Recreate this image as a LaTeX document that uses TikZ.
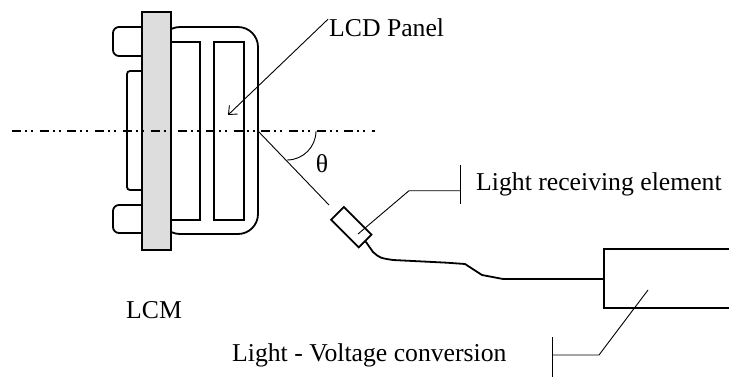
\documentclass[tikz,border=0pt]{standalone}
\usepackage{fontspec}
\setmainfont{Liberation Serif}
\usetikzlibrary{arrows.meta}
\definecolor{plategray}{RGB}{221,221,221}
\begin{document}
\begin{tikzpicture}[x=1pt,y=-1pt,
  thickline/.style={line width=1.8pt},
  thinline/.style={line width=0.9pt},
  lbl/.style={font=\fontsize{25.7}{30}\selectfont, inner sep=0pt, anchor=base west},
  axisline/.style={line width=1.8pt, dash pattern=on 9pt off 4pt on 2pt off 4pt on 2pt off 6.7pt}]
\useasboundingbox (0,0) rectangle (729,376);
% LCM body
\draw[thickline, rounded corners=20pt] (160,27) rectangle (258,234);
\draw[thickline, rounded corners=6pt] (113,27) rectangle (150,56);
\draw[thickline, rounded corners=6pt] (113,205) rectangle (150,233);
\draw[thickline, rounded corners=3pt] (127,71) rectangle (150,190);
\draw[thickline, fill=plategray] (142,12) rectangle (171,250);
\draw[thickline] (171,42) rectangle (200,220);
\draw[thickline] (214,42) rectangle (244,220);
% axis
\coordinate (axL) at (12,131);
\coordinate (axR) at (375,131);
\draw[axisline] (axL) -- (axR);
% viewing direction
\coordinate (origin) at (258,131);
\coordinate (viewend) at (329,205);
\draw[thinline] (origin) -- (viewend);
\draw[thinline] (316,131) .. controls (316,147) and (303,160) .. (287,160);
\node[font=\fontsize{25.7}{30}\selectfont, inner sep=0pt] (theta) at (322,164) {θ};
% sensor
\node[draw, thickline, minimum width=39pt, minimum height=18pt, inner sep=0pt, rotate=-45] (sensor) at (351.3,227.2) {};
% converter box
\coordinate (boxin) at (604,279);
\draw[thickline] (731,249.3) -- (604,249.3) -- (604,308.3) -- (731,308.3);
% cable
\draw[thickline, line join=round] (sensor.east) -- (373,252) .. controls (380,258) .. (393,260) -- (447,262.7) -- (465,264) -- (482,275) -- (503,279) -- (boxin);
% labels
\node[lbl] (lcd) at (329,36) {LCD Panel};
\node[lbl] (recv) at (476,190) {Light receiving element};
\node[lbl] (lcm) at (126,318) {LCM};
\node[lbl] (conv) at (232,361) {Light - Voltage conversion};
% LCD panel arrow
\coordinate (lcdtip) at (228,115);
\draw[thinline, -{Straight Barb[length=7pt,width=12pt]}] (lcd.west) ++(-1,-8) -- (lcdtip);
% sensor leader
\coordinate (s1) at (358,234);
\coordinate (s2) at (409,190.7);
\coordinate (s3) at (460,190.7);
\draw[thinline] (s1) -- (s2) -- (s3);
\coordinate (t1a) at (460,165);
\coordinate (t1b) at (460,204);
\draw[thinline] (t1a) -- (t1b);
% converter leader
\coordinate (c1) at (648,290);
\coordinate (c2) at (599,355);
\coordinate (c3) at (552,355);
\draw[thinline] (c1) -- (c2) -- (c3);
\coordinate (t2a) at (552,337);
\coordinate (t2b) at (552,380);
\draw[thinline] (t2a) -- (t2b);
\end{tikzpicture}
\end{document}
